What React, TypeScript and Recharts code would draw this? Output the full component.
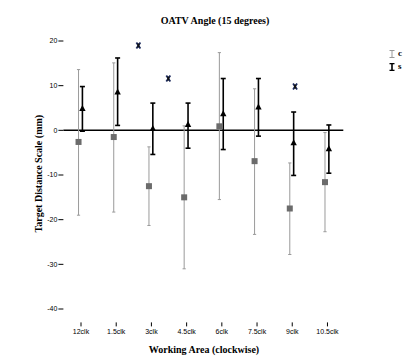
import {
  ComposedChart,
  ErrorBar,
  Label,
  ReferenceLine,
  Scatter,
  XAxis,
  YAxis,
} from "recharts";

const categories = ["12clk", "1.5clk", "3clk", "4.5clk", "6clk", "7.5clk", "9clk", "10.5clk"];

// series "c" (grey squares): mean, lower and upper whisker ends
const cMean = [-2.6, -1.5, -12.5, -15.0, 0.9, -6.9, -17.5, -11.6];
const cLow = [-19.0, -18.3, -21.3, -31.0, -15.5, -23.3, -27.8, -22.7];
const cHigh = [13.6, 15.1, -3.7, 1.0, 17.4, 9.3, -7.3, -0.5];

// series "s" (black triangles)
const sMean = [4.9, 8.6, 0.4, 1.3, 3.7, 5.2, -2.8, -4.1];
const sLow = [-0.2, 1.1, -5.4, -4.0, -4.3, -1.3, -10.1, -9.6];
const sHigh = [9.8, 16.2, 6.1, 6.1, 11.6, 11.6, 4.1, 1.2];

// significance markers (x in category index units)
const sigPos = [1.63, 2.48, 6.08];
const sigVal = [19.0, 11.6, 9.8];

const yTicks = [-40, -30, -20, -10, 0, 10, 20];

const C_DODGE = -0.07;
const S_DODGE = 0.04;

const cData = categories.map((name, i) => ({
  name,
  x: i + C_DODGE,
  y: cMean[i],
  err: [cMean[i] - cLow[i], cHigh[i] - cMean[i]],
}));

const sData = categories.map((name, i) => ({
  name,
  x: i + S_DODGE,
  y: sMean[i],
  err: [sMean[i] - sLow[i], sHigh[i] - sMean[i]],
}));

const sigData = sigPos.map((x, i) => ({ x, y: sigVal[i] }));

const SERIF = "'Liberation Serif', 'Times New Roman', serif";
const SANS = "'Liberation Sans', Arial, sans-serif";

function Square(props: any) {
  const { cx, cy } = props;
  return <rect x={cx - 3} y={cy - 3} width={6} height={6} fill="#6b6b6b" />;
}

function Triangle(props: any) {
  const { cx, cy } = props;
  return (
    <path
      d={`M${cx},${cy - 3.5} L${cx + 3.2},${cy + 2.5} L${cx - 3.2},${cy + 2.5} Z`}
      fill="#000"
    />
  );
}

function Star(props: any) {
  const { cx, cy } = props;
  return (
    <g>
      <path
        d={`M${cx - 2},${cy - 3} L${cx + 2},${cy + 3} M${cx + 2},${cy - 3} L${cx - 2},${cy + 3}`}
        stroke="#1c2a5c"
        strokeWidth={1.8}
      />
      <rect x={cx - 1} y={cy - 2} width={2} height={4} fill="#111" />
    </g>
  );
}

function YTitle({ viewBox }: any) {
  const x = viewBox.x + 39;
  const y = viewBox.y + viewBox.height / 2 - 8;
  return (
    <text
      x={x}
      y={y}
      transform={`rotate(-90, ${x}, ${y})`}
      textAnchor="middle"
      dominantBaseline="central"
      fontFamily={SERIF}
      fontWeight="bold"
      fontSize={10}
      fill="#000"
    >
      Target Distance Scale (mm)
    </text>
  );
}

function XTitle({ viewBox }: any) {
  return (
    <text
      x={204}
      y={viewBox.y + 27.5}
      textAnchor="middle"
      dominantBaseline="central"
      fontFamily={SERIF}
      fontWeight="bold"
      fontSize={10}
      fill="#000"
    >
      Working Area (clockwise)
    </text>
  );
}

function LegendGlyph({ color, weight }: { color: string; weight: number }) {
  return (
    <svg width={6} height={8} style={{ display: "block" }}>
      <line x1={0.5} y1={0.5} x2={5.5} y2={0.5} stroke={color} strokeWidth={weight} />
      <line x1={3} y1={0.5} x2={3} y2={7.5} stroke={color} strokeWidth={weight} />
      <line x1={0.5} y1={7.5} x2={5.5} y2={7.5} stroke={color} strokeWidth={weight} />
    </svg>
  );
}

export default function App() {
  return (
    <div
      style={{
        position: "absolute",
        left: 0,
        top: 0,
        width: 414,
        height: 358,
        background: "#fff",
      }}
    >
      <div
        style={{
          position: "absolute",
          left: 0,
          width: 430,
          top: 14,
          textAlign: "center",
          fontFamily: SERIF,
          fontWeight: "bold",
          fontSize: 10,
          lineHeight: "14px",
        }}
      >
        OATV Angle (15 degrees)
      </div>

      <div
        style={{
          position: "absolute",
          left: 389,
          top: 47,
          fontFamily: SERIF,
          fontWeight: "bold",
          fontSize: 9,
          lineHeight: "13px",
        }}
      >
        <div style={{ display: "flex", alignItems: "center", gap: 3 }}>
          <LegendGlyph color="#999" weight={1} />
          <span>c</span>
        </div>
        <div style={{ display: "flex", alignItems: "center", gap: 3 }}>
          <LegendGlyph color="#000" weight={1.6} />
          <span>s</span>
        </div>
      </div>

      <ComposedChart
        width={414}
        height={358}
        margin={{ top: 41, right: 70.7, bottom: 5.6, left: 0 }}
      >
        <XAxis
          type="number"
          dataKey="x"
          domain={[-0.5, 7.45]}
          ticks={categories.map((_, i) => i)}
          tickFormatter={(v: number) => categories[Math.round(v)]}
          axisLine={false}
          tickLine={{ stroke: "#000", strokeWidth: 1 }}
          tickSize={4}
          tickMargin={3}
          height={30}
          tick={{ fontSize: 7, fontFamily: SANS, fill: "#000" }}
          allowDataOverflow
        >
          <Label content={XTitle} />
        </XAxis>
        <YAxis
          type="number"
          dataKey="y"
          domain={[-43, 20]}
          ticks={yTicks}
          axisLine={false}
          tickLine={{ stroke: "#000", strokeWidth: 1 }}
          tickSize={5}
          tickMargin={1}
          width={63.4}
          tick={{ fontSize: 7, fontFamily: SANS, fill: "#000" }}
          allowDataOverflow
        >
          <Label content={YTitle} />
        </YAxis>
        <ReferenceLine y={0} stroke="#000" strokeWidth={1.5} />
        <Scatter
          name="c"
          data={cData}
          shape={Square}
          isAnimationActive={false}
        >
          <ErrorBar
            dataKey="err"
            direction="y"
            width={1.6}
            stroke="#9a9a9a"
            strokeWidth={1}
            isAnimationActive={false}
          />
        </Scatter>
        <Scatter
          name="s"
          data={sData}
          shape={Triangle}
          isAnimationActive={false}
        >
          <ErrorBar
            dataKey="err"
            direction="y"
            width={2.5}
            stroke="#000"
            strokeWidth={1.6}
            isAnimationActive={false}
          />
        </Scatter>
        <Scatter
          name="sig"
          data={sigData}
          shape={Star}
          isAnimationActive={false}
        />
      </ComposedChart>
    </div>
  );
}
